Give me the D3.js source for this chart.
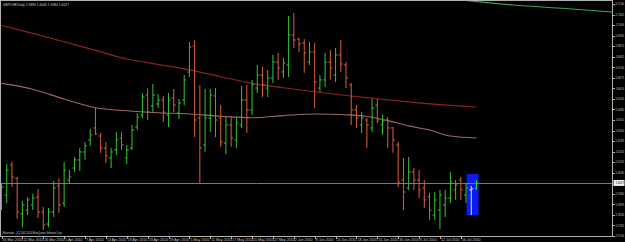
<!DOCTYPE html>
<html>
<head>
<meta charset="utf-8">
<script src="https://cdnjs.cloudflare.com/ajax/libs/d3/7.8.5/d3.min.js"></script>
<style>
  body { margin: 0; background: #000; }
  svg { display: block; }
  text { font-family: "Liberation Sans", Arial, sans-serif; }
</style>
</head>
<body>
<script>
// daily bars GBPCHF, first bar 16 Mar 2010
const opens = [
  1.5891, 1.5953, 1.6138, 1.6057, 1.5836, 1.5860, 1.5891, 1.5940, 1.5848, 1.5774,
  1.5848, 1.6008, 1.5903, 1.6045, 1.6119, 1.6169, 1.6218, 1.6292, 1.6366, 1.6316,
  1.6242, 1.6181, 1.6230, 1.6304, 1.6181, 1.6242, 1.6372, 1.6446, 1.6569, 1.6501,
  1.6514, 1.6538, 1.6446, 1.6551, 1.6458, 1.6538, 1.6711, 1.6871, 1.6427, 1.6261,
  1.6427, 1.6563, 1.6427, 1.6273, 1.6384, 1.6292, 1.6384, 1.6538, 1.6477, 1.6612,
  1.6692, 1.6612, 1.6674, 1.6772, 1.6711, 1.6754, 1.6939, 1.6914, 1.6890, 1.6772,
  1.6834, 1.6612, 1.6662, 1.6772, 1.6692, 1.6816, 1.6754, 1.6631, 1.6477, 1.6384,
  1.6415, 1.6366, 1.6507, 1.6384, 1.6415, 1.6366, 1.6261, 1.6045, 1.5996, 1.6095,
  1.6045, 1.5996, 1.5940, 1.5829, 1.5860, 1.5891, 1.5934, 1.5984, 1.6045, 1.5953,
  1.5984, 1.5996,
];
const highs = [
  1.6027, 1.6144, 1.6156, 1.6064, 1.5916, 1.5940, 1.5959, 1.5990, 1.5879, 1.5873,
  1.6039, 1.6057, 1.6156, 1.6107, 1.6187, 1.6242, 1.6279, 1.6360, 1.6489, 1.6335,
  1.6279, 1.6242, 1.6341, 1.6341, 1.6261, 1.6384, 1.6458, 1.6581, 1.6612, 1.6637,
  1.6575, 1.6563, 1.6581, 1.6606, 1.6544, 1.6692, 1.6896, 1.6908, 1.6631, 1.6606,
  1.6606, 1.6612, 1.6507, 1.6433, 1.6433, 1.6433, 1.6625, 1.6631, 1.6662, 1.6754,
  1.6742, 1.6723, 1.6816, 1.6828, 1.6797, 1.7056, 1.7075, 1.6920, 1.6914, 1.6896,
  1.6890, 1.6692, 1.6828, 1.6846, 1.6859, 1.6908, 1.6772, 1.6643, 1.6507, 1.6464,
  1.6427, 1.6544, 1.6544, 1.6446, 1.6433, 1.6372, 1.6279, 1.6181, 1.6187, 1.6119,
  1.6107, 1.6045, 1.5965, 1.5971, 1.5984, 1.5984, 1.6095, 1.6045, 1.6064, 1.6027,
  1.6008, 1.6045,
];
const lows = [
  1.5860, 1.5903, 1.6002, 1.5805, 1.5755, 1.5829, 1.5860, 1.5811, 1.5737, 1.5755,
  1.5817, 1.5842, 1.5879, 1.6021, 1.6095, 1.6101, 1.6169, 1.6255, 1.6323, 1.6212,
  1.6150, 1.6119, 1.6199, 1.6230, 1.6144, 1.6230, 1.6353, 1.6427, 1.6415, 1.6458,
  1.6489, 1.6403, 1.6372, 1.6464, 1.6421, 1.6507, 1.6680, 1.6310, 1.6027, 1.6218,
  1.6341, 1.6310, 1.6249, 1.6205, 1.6249, 1.6242, 1.6366, 1.6335, 1.6446, 1.6581,
  1.6557, 1.6557, 1.6643, 1.6662, 1.6674, 1.6680, 1.6859, 1.6834, 1.6705, 1.6754,
  1.6489, 1.6588, 1.6618, 1.6662, 1.6649, 1.6711, 1.6612, 1.6384, 1.6366, 1.6335,
  1.6242, 1.6341, 1.6397, 1.6323, 1.6242, 1.6212, 1.6002, 1.5860, 1.5984, 1.5984,
  1.5934, 1.5873, 1.5799, 1.5799, 1.5743, 1.5817, 1.5903, 1.5922, 1.5922, 1.5903,
  1.5829, 1.5984,
];
const closes = [
  1.6002, 1.6107, 1.6064, 1.5848, 1.5891, 1.5922, 1.5934, 1.5848, 1.5768, 1.5848,
  1.5996, 1.5891, 1.6107, 1.6064, 1.6169, 1.6218, 1.6255, 1.6323, 1.6329, 1.6242,
  1.6193, 1.6218, 1.6292, 1.6261, 1.6230, 1.6353, 1.6433, 1.6557, 1.6464, 1.6569,
  1.6538, 1.6464, 1.6538, 1.6507, 1.6520, 1.6662, 1.6865, 1.6415, 1.6242, 1.6427,
  1.6569, 1.6415, 1.6279, 1.6384, 1.6304, 1.6397, 1.6538, 1.6477, 1.6631, 1.6692,
  1.6631, 1.6674, 1.6772, 1.6736, 1.6766, 1.6939, 1.6908, 1.6884, 1.6828, 1.6834,
  1.6649, 1.6662, 1.6772, 1.6736, 1.6816, 1.6760, 1.6674, 1.6477, 1.6427, 1.6427,
  1.6384, 1.6489, 1.6415, 1.6409, 1.6366, 1.6292, 1.6033, 1.5971, 1.6095, 1.6045,
  1.5984, 1.5922, 1.5860, 1.5922, 1.5953, 1.5934, 1.6033, 1.6014, 1.5984, 1.5996,
  1.5990, 1.6027,
];

// moving averages, [bar index, value]
const maSlow = [
  [0, 1.6998], [6, 1.6949], [12, 1.6897], [18, 1.6844], [24, 1.6791], [30, 1.6758],
  [36, 1.6724], [42, 1.6682], [48, 1.6641], [54, 1.6614], [60, 1.6589], [66, 1.6566],
  [72, 1.6546], [78, 1.6527], [84, 1.6510], [91, 1.6495],
];
const maMid = [
  [0, 1.6641], [6, 1.6605], [12, 1.6544], [18, 1.6491], [24, 1.6472], [30, 1.6460],
  [36, 1.6452], [42, 1.6438], [48, 1.6429], [54, 1.6442], [60, 1.6452], [66, 1.6447],
  [70, 1.6437], [74, 1.6411], [78, 1.6379], [82, 1.6353], [86, 1.6316], [91, 1.6304],
];
const maShifted = [[86, 1.7162], [98, 1.7124], [108, 1.7102], [117, 1.7081]];

// axis labels
const priceTicks = [
  1.7130, 1.7065, 1.7000, 1.6935, 1.6870, 1.6805, 1.6740, 1.6675, 1.6610, 1.6545,
  1.6480, 1.6415, 1.6350, 1.6285, 1.6220, 1.6155, 1.6090, 1.6025, 1.5960, 1.5895,
  1.5830, 1.5765, 1.5700,
];
const dateTicks = [
  "16 Mar 2010", "22 Mar 2010", "26 Mar 2010", "1 Apr 2010", "7 Apr 2010", "13 Apr 2010",
  "19 Apr 2010", "23 Apr 2010", "29 Apr 2010", "5 May 2010", "11 May 2010", "17 May 2010",
  "21 May 2010", "27 May 2010", "2 Jun 2010", "8 Jun 2010", "14 Jun 2010", "18 Jun 2010",
  "24 Jun 2010", "30 Jun 2010", "6 Jul 2010", "12 Jul 2010", "16 Jul 2010",
];
const dateStep = 4;

// rectangle object drawn on chart
const boxFrom = 89, boxTo = 91, boxTop = 1.6082, boxBottom = 1.5829;
const selectedBar = 90;

//SVG size
const w = 625;
const h = 242;
const plotRight = 612.5;
const plotBottom = 236.5;

const upColor = "#35c435";
const downColor = "#d8603c";
const frameColor = "#b0b0b0";

const x = d3.scaleLinear().domain([0, 91]).range([1.5, 476.5]);
const y = d3.scaleLinear().domain([1.7130, 1.5700]).range([4, 236]);

const svg = d3.select("body").append("svg").attr("width", w).attr("height", h);
svg.append("rect").attr("width", w).attr("height", h).attr("fill", "#000");

svg.append("clipPath").attr("id", "plot")
  .append("rect").attr("x", 1).attr("y", 1).attr("width", plotRight - 1).attr("height", plotBottom - 1);

const plot = svg.append("g").attr("clip-path", "url(#plot)");

// blue rectangle
plot.append("rect")
  .attr("x", x(boxFrom) + 0.5)
  .attr("y", y(boxTop))
  .attr("width", x(boxTo) - x(boxFrom) + 1.5)
  .attr("height", y(boxBottom) - y(boxTop))
  .attr("fill", "#0a1cf2");

// bid line
const last = closes[closes.length - 1];
plot.append("line")
  .attr("x1", 0).attr("x2", plotRight)
  .attr("y1", Math.round(y(last)) + 0.5)
  .attr("y2", Math.round(y(last)) + 0.5)
  .attr("stroke", "#7a7a7a").attr("stroke-width", 1);

// moving averages
const maLine = d3.line().x((d) => x(d[0])).y((d) => y(d[1])).curve(d3.curveMonotoneX);
plot.append("path").attr("d", maLine(maSlow)).attr("fill", "none").attr("stroke", "#8e2222").attr("stroke-width", 1.1);
plot.append("path").attr("d", maLine(maMid)).attr("fill", "none").attr("stroke", "#a06666").attr("stroke-width", 1.1);
plot.append("path").attr("d", maLine(maShifted)).attr("fill", "none").attr("stroke", "#3fa454").attr("stroke-width", 1.1);

// bars
const bars = plot.selectAll("g.bar").data(opens).enter().append("g").attr("class", "bar")
  .attr("stroke", (d, i) => (i === selectedBar ? "#d8e4ff" : closes[i] >= d ? upColor : downColor))
  .attr("stroke-width", 1);

bars.append("line")
  .attr("x1", (d, i) => x(i)).attr("x2", (d, i) => x(i))
  .attr("y1", (d, i) => y(highs[i])).attr("y2", (d, i) => y(lows[i]));
bars.append("line")
  .attr("x1", (d, i) => x(i) - 2).attr("x2", (d, i) => x(i))
  .attr("y1", (d) => y(d)).attr("y2", (d) => y(d));
bars.append("line")
  .attr("x1", (d, i) => x(i)).attr("x2", (d, i) => x(i) + 2)
  .attr("y1", (d, i) => y(closes[i])).attr("y2", (d, i) => y(closes[i]));

// frame
svg.append("rect")
  .attr("x", 0.5).attr("y", 0.5)
  .attr("width", plotRight - 0.5).attr("height", plotBottom - 0.5)
  .attr("fill", "none").attr("stroke", frameColor).attr("stroke-width", 1);

// price axis
const pt = svg.selectAll("g.pt")
  .data(priceTicks.filter((p) => Math.abs(y(p) - y(last)) > 5))
  .enter().append("g").attr("class", "pt");
pt.append("line")
  .attr("x1", plotRight).attr("x2", plotRight + 2.5)
  .attr("y1", (d) => Math.round(y(d)) + 0.5).attr("y2", (d) => Math.round(y(d)) + 0.5)
  .attr("stroke", frameColor);
pt.append("text")
  .attr("x", plotRight + 3).attr("y", (d) => y(d) + 1.3)
  .attr("font-size", 3.4).attr("fill", "#c8c8c8")
  .attr("textLength", 8.5).attr("lengthAdjust", "spacingAndGlyphs")
  .text((d) => d.toFixed(4));

svg.append("rect")
  .attr("x", plotRight + 1).attr("y", y(last) - 3)
  .attr("width", w - plotRight - 1.5).attr("height", 6)
  .attr("fill", "#f0f0f0");
svg.append("text")
  .attr("x", plotRight + 3).attr("y", y(last) + 1.3)
  .attr("font-size", 3.4).attr("fill", "#000")
  .attr("textLength", 8.5).attr("lengthAdjust", "spacingAndGlyphs")
  .text(last.toFixed(4));

// time axis
const dt = svg.selectAll("g.dt").data(dateTicks).enter().append("g").attr("class", "dt");
dt.append("line")
  .attr("x1", (d, i) => Math.round(x(i * dateStep)) + 0.5).attr("x2", (d, i) => Math.round(x(i * dateStep)) + 0.5)
  .attr("y1", plotBottom).attr("y2", plotBottom + 2.5)
  .attr("stroke", frameColor);
dt.append("text")
  .attr("x", (d, i) => x(i * dateStep) + 1).attr("y", 241)
  .attr("font-size", 3.6).attr("fill", "#c8c8c8")
  .text((d) => d);

// texts
svg.append("text")
  .attr("x", 3).attr("y", 6)
  .attr("font-size", 4.2).attr("fill", "#d0d0d0")
  .attr("textLength", 66).attr("lengthAdjust", "spacingAndGlyphs")
  .text("GBPCHF,Daily  " + [opens[91], highs[91], lows[91], closes[91]].map((v) => v.toFixed(4)).join(" "));

svg.append("text")
  .attr("x", 2.5).attr("y", 234)
  .attr("font-size", 3.4).attr("fill", "#d0d0d0")
  .attr("textLength", 60).attr("lengthAdjust", "spacingAndGlyphs")
  .text("Metatrader - (C) 2001-2010 MetaQuotes Software Corp.");
</script>
</body>
</html>
